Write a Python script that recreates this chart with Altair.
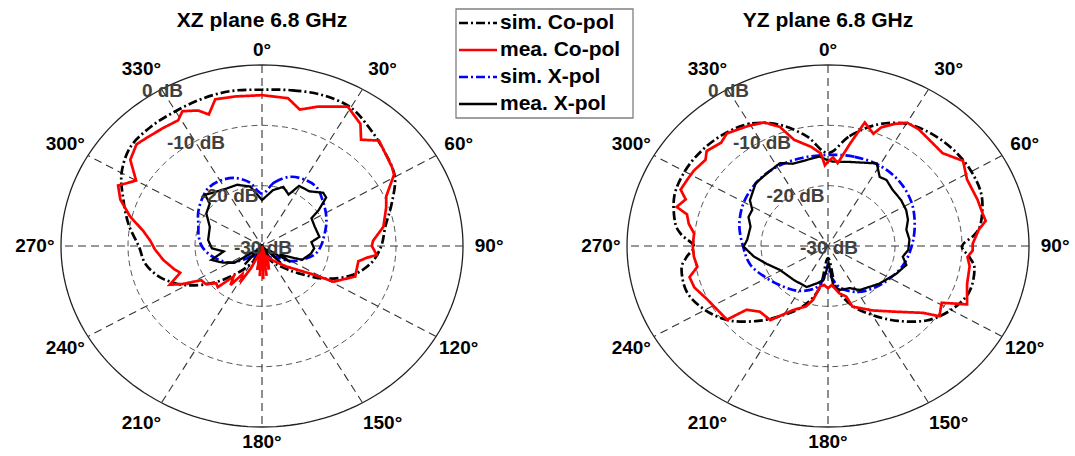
import altair as alt
import pandas as pd

# ---------------- data ----------------
SERIES = ["sim. Co-pol", "mea. Co-pol", "sim. X-pol", "mea. X-pol"]
PANEL_TITLES = ["XZ plane 6.8 GHz", "YZ plane 6.8 GHz"]
ANGLE_TICKS = list(range(0, 360, 30))
DB_TICKS = [0, -10, -20, -30]
DB_MIN = -30

# XZ plane
XZ_SIM_CO_ANG = list(range(0, 360, 10))
XZ_SIM_CO_DB = [-4.1, -3.8, -3.4, -3.5, -4.8, -6.0, -7.1, -9.4, -11.3, -12.2,
                -13.5, -15.8, -19.2, -23.0, -25.5, -27.0, -28.5, -30.0, -33.0, -30.0,
                -28.5, -26.5, -24.0, -20.5, -17.0, -14.2, -12.4, -11.6, -9.8, -8.0,
                -5.8, -4.4, -4.2, -4.2, -4.0, -3.9]

XZ_MEA_CO_ANG = [0, 9, 14, 20, 29, 36, 40, 45, 56, 59, 66, 71, 80, 87, 90, 95, 97, 100, 110, 119,
                 122, 133, 145, 155, 165, 168, 172, 175, 178, 181, 184, 187, 190, 195, 204,
                 208, 212, 216, 220, 224, 228, 233, 238, 242, 245, 250, 254, 261, 268, 273,
                 278, 284, 290, 295, 300, 306, 312, 317, 323, 329, 332, 337, 340, 344, 351]
XZ_MEA_CO_DB = [-5.0, -5.2, -6.7, -5.4, -3.6, -5.0, -7.0, -5.3, -6.6, -7.0, -9.7, -10.4, -11.6,
                -13.4, -13.6, -12.8, -14.2, -15.4, -15.2, -17.8, -21.2, -25.0, -27.0, -28.0,
                -26.0, -30.0, -25.0, -30.0, -24.5, -30.0, -25.0, -30.0, -26.0, -29.0, -26.0,
                -23.5, -24.5, -22.0, -23.4, -20.5, -20.8, -19.5, -19.3, -16.6, -14.8, -17.0,
                -16.3, -15.1, -14.0, -13.3, -12.1, -9.7, -7.5, -6.3, -8.3, -5.7, -4.8, -5.2,
                -5.5, -5.7, -4.7, -5.6, -6.8, -4.7, -4.9]

XZ_SIM_X_ANG = list(range(0, 360, 10))
XZ_SIM_X_DB = [-21.3, -19.3, -17.8, -17.3, -17.3, -18.2, -19.0, -19.8, -20.6, -21.2,
               -22.0, -23.5, -25.0, -27.0, -28.0, -27.5, -29.0, -27.0, -30.0, -27.0,
               -29.0, -27.5, -28.0, -26.5, -24.5, -23.2, -22.0, -21.0, -20.4, -19.9,
               -19.0, -18.2, -17.5, -17.5, -18.0, -19.3]

XZ_MEA_X_ANG = [0, 10, 18, 25, 29, 38, 46, 50, 55, 58, 68, 80, 85, 93, 100, 111, 118, 122, 128,
                135, 142, 150, 158, 165, 172, 178, 184, 190, 198, 205, 213, 220, 228, 236,
                245, 253, 261, 267, 277, 292, 303, 312, 315, 323, 331, 340, 350]
XZ_MEA_X_DB = [-22.4, -20.6, -19.7, -20.6, -18.6, -18.5, -17.3, -17.5, -19.7, -21.3, -21.5,
               -21.3, -22.6, -22.2, -22.6, -23.6, -27.0, -25.0, -29.0, -26.0, -30.0, -27.0,
               -30.0, -26.0, -30.0, -25.0, -30.0, -26.0, -30.0, -27.0, -30.0, -26.0, -29.0,
               -25.0, -23.5, -22.1, -24.2, -22.5, -21.9, -21.6, -20.1, -19.5, -18.0, -18.7,
               -19.1, -19.2, -20.0]

# YZ plane
YZ_SIM_CO_ANG = [0, 10, 20, 30, 40, 50, 60, 70, 80, 85, 90, 95, 100, 110, 120, 130, 140, 150,
                 160, 170, 180, 190, 200, 210, 220, 230, 240, 250, 260, 265, 270, 275, 280,
                 290, 300, 310, 320, 330, 340, 350]
YZ_SIM_CO_DB = [-14.6, -11.5, -8.6, -6.6, -5.8, -5.4, -5.3, -5.6, -6.8, -8.0, -10.0, -8.8,
                -7.8, -7.6, -8.8, -10.8, -13.8, -16.8, -19.5, -23.0, -28.0, -23.0, -19.5,
                -16.8, -13.8, -10.8, -8.8, -7.6, -7.8, -8.8, -10.0, -8.0, -6.8, -5.6, -5.3,
                -5.4, -5.8, -6.6, -8.6, -11.5]

YZ_MEA_CO_ANG = [0, 3, 6, 11, 15, 20, 22, 26, 30, 35, 39, 48, 55, 62, 71, 77, 80, 83, 89, 92,
                 95, 99, 107, 115, 119, 125, 128, 137, 148, 160, 162, 168, 175, 180, 185,
                 190, 194, 198, 206, 215, 223, 229, 231, 235, 244, 251, 256, 260, 265, 270,
                 276, 280, 284, 286, 290, 293, 298, 302, 308, 311, 317, 321, 329, 335, 340,
                 344, 351, 356, 358]
YZ_MEA_CO_DB = [-16.0, -15.3, -16.2, -12.7, -8.8, -10.2, -8.8, -7.5, -6.4, -6.4, -6.7, -7.0,
                -5.4, -6.5, -6.4, -6.3, -6.1, -7.3, -8.4, -8.4, -9.1, -8.6, -8.3, -7.1, -10.6,
                -9.7, -12.0, -15.1, -17.4, -19.3, -21.2, -22.0, -23.5, -23.0, -23.5, -23.2,
                -20.8, -19.5, -18.2, -15.0, -15.1, -13.9, -10.6, -10.5, -9.9, -8.9, -8.7,
                -10.2, -9.9, -9.8, -9.9, -8.9, -8.3, -6.5, -7.4, -6.1, -6.3, -6.4, -6.8,
                -6.0, -6.6, -6.0, -6.8, -7.4, -9.0, -11.7, -13.3, -14.6, -16.6]

YZ_SIM_X_ANG = [0, 15, 30, 45, 60, 75, 90, 105, 120, 135, 150, 165, 175, 180, 185, 195, 210,
                225, 240, 255, 270, 285, 300, 315, 330, 345]
YZ_SIM_X_DB = [-14.9, -14.7, -14.6, -14.9, -15.6, -16.6, -17.5, -18.3, -19.3, -20.2, -21.2,
               -22.8, -25.0, -27.0, -25.0, -22.8, -21.4, -20.5, -19.4, -18.0, -17.3, -16.3,
               -15.5, -15.0, -14.8, -14.9]

YZ_MEA_X_ANG = [0, 3, 13, 28, 34, 38.5, 46, 55, 63, 70, 77, 85, 93, 99, 105, 114, 129, 147, 155,
                166, 173, 178, 187, 195, 205, 222, 241, 252, 261, 269.5, 275, 285.5, 292, 298,
                303, 314, 323, 332.5, 339, 347, 355]
YZ_MEA_X_DB = [-15.8, -16.0, -15.7, -14.5, -16.2, -16.0, -16.6, -16.7, -16.9, -17.3, -18.0,
               -17.8, -18.0, -18.7, -17.9, -18.8, -20.1, -21.3, -22.3, -22.5, -23.2, -27.1,
               -24.3, -23.6, -22.5, -22.4, -21.8, -20.4, -18.8, -17.4, -17.9, -18.0, -17.2,
               -17.2, -16.1, -15.0, -14.9, -14.5, -15.4, -15.4, -15.1]

# ---------------- layout / style ----------------
W, H = 1075, 456
X_DOMAIN = [-1.3035, 4.0448]   # 1 unit = outer radius (horizontal)
Y_DOMAIN = [-1.1602, 1.3591]   # 1 unit = outer radius (vertical)
PANEL_CX = [0.0, 2.816]
COLORS = ["#000000", "#ff0000", "#0000ff", "#000000"]
DASHES = [[9, 3, 2, 3], [1, 0], [9, 3, 2, 3], [1, 0]]
FONT = "Liberation Sans"
DB_LABEL_ANGLE = 330

xs = alt.Scale(domain=X_DOMAIN, nice=False, zero=False)
ys = alt.Scale(domain=Y_DOMAIN, nice=False, zero=False)


def X(f):
    return alt.X(f"{f}:Q", scale=xs, axis=None)


def Y(f):
    return alt.Y(f"{f}:Q", scale=ys, axis=None)


def polar(ch):
    return ch.transform_calculate(
        rr=f"max(0, (datum.db - ({DB_MIN})) / {-DB_MIN})"
    ).transform_calculate(
        px="datum.cx + datum.rr * sin(datum.ang * PI / 180)",
        py="datum.rr * cos(datum.ang * PI / 180)",
    )


# series table
rows = []
all_series = [
    (0, SERIES[0], XZ_SIM_CO_ANG, XZ_SIM_CO_DB),
    (0, SERIES[1], XZ_MEA_CO_ANG, XZ_MEA_CO_DB),
    (0, SERIES[2], XZ_SIM_X_ANG, XZ_SIM_X_DB),
    (0, SERIES[3], XZ_MEA_X_ANG, XZ_MEA_X_DB),
    (1, SERIES[0], YZ_SIM_CO_ANG, YZ_SIM_CO_DB),
    (1, SERIES[1], YZ_MEA_CO_ANG, YZ_MEA_CO_DB),
    (1, SERIES[2], YZ_SIM_X_ANG, YZ_SIM_X_DB),
    (1, SERIES[3], YZ_MEA_X_ANG, YZ_MEA_X_DB),
]
for p, s, angs, dbs in all_series:
    for i, (a, d) in enumerate(zip(angs, dbs)):
        rows.append(dict(panel=p, cx=PANEL_CX[p], series=s, idx=i, ang=a, db=d))
df = pd.DataFrame(rows)

# grid rings
ring_rows = []
for p in range(2):
    for lvl in DB_TICKS[:-1]:
        for a in range(0, 361, 2):
            ring_rows.append(dict(panel=p, cx=PANEL_CX[p], db=lvl, ang=a, key=f"{p}_{lvl}"))
rings = pd.DataFrame(ring_rows)

# spokes
spk = pd.DataFrame([dict(panel=p, cx=PANEL_CX[p], ang=a)
                    for p in range(2) for a in ANGLE_TICKS[:6]])
# angle labels
alab = pd.DataFrame([dict(panel=p, cx=PANEL_CX[p], ang=a, text=f"{a}°")
                     for p in range(2) for a in ANGLE_TICKS])
# dB labels
dlab = pd.DataFrame([dict(panel=p, cx=PANEL_CX[p], ang=DB_LABEL_ANGLE, db=d, text=f"{d} dB")
                     for p in range(2) for d in DB_TICKS])
# titles
tdf = pd.DataFrame([dict(panel=p, cx=PANEL_CX[p], text=t) for p, t in enumerate(PANEL_TITLES)])
# legend
ldf = pd.DataFrame([dict(series=s, i=i) for i, s in enumerate(SERIES)])

layers = []

# inner rings (dashed)
layers.append(
    polar(alt.Chart(rings[rings.db < 0])).mark_line(
        color="#555555", strokeWidth=1, strokeDash=[6, 4]
    ).encode(x=X("px"), y=Y("py"), detail="key:N", order="ang:Q")
)
# outer ring (solid)
layers.append(
    polar(alt.Chart(rings[rings.db == 0])).mark_line(
        color="#222222", strokeWidth=1.3
    ).encode(x=X("px"), y=Y("py"), detail="key:N", order="ang:Q")
)
# spokes
layers.append(
    alt.Chart(spk).transform_calculate(
        sx1="datum.cx + sin(datum.ang * PI / 180)",
        sy1="cos(datum.ang * PI / 180)",
        sx2="datum.cx - sin(datum.ang * PI / 180)",
        sy2="-cos(datum.ang * PI / 180)",
    ).mark_rule(color="#333333", strokeWidth=1.1, strokeDash=[8, 5]).encode(
        x=X("sx1"), y=Y("sy1"), x2="sx2:Q", y2="sy2:Q"
    )
)


def series_layer(name, interp, color, dash, width):
    sub = df[df.series == name]
    return polar(alt.Chart(sub)).mark_line(
        interpolate=interp, color=color, strokeDash=dash, strokeWidth=width
    ).encode(x=X("px"), y=Y("py"), detail="panel:N", order="idx:Q")


layers.append(series_layer(SERIES[0], "cardinal-closed", COLORS[0], DASHES[0], 2.7))
layers.append(series_layer(SERIES[2], "cardinal-closed", COLORS[2], DASHES[2], 2.7))
layers.append(series_layer(SERIES[3], "linear-closed", COLORS[3], DASHES[3], 2.3))
layers.append(series_layer(SERIES[1], "linear-closed", COLORS[1], DASHES[1], 2.7))

# angle labels
layers.append(
    alt.Chart(alab).transform_calculate(
        sn="sin(datum.ang * PI / 180)",
        cs="cos(datum.ang * PI / 180)",
    ).transform_calculate(
        lx="datum.cx + (abs(datum.sn) > 0.4 && abs(datum.sn) < 0.6 ? 1.2 : 1.13) * datum.sn",
        ly="(abs(datum.cs) > 0.99 ? 1.085 : 1.13) * datum.cs",
    ).mark_text(font=FONT, fontSize=19, fontWeight="bold", color="#000000",
                align="center", baseline="middle").encode(
        x=X("lx"), y=Y("ly"), text="text:N")
)
# dB labels
layers.append(
    polar(alt.Chart(dlab)).mark_text(font=FONT, fontSize=19, fontWeight="bold",
                                     color="#404040", align="center",
                                     baseline="middle", dx=1, dy=2).encode(
        x=X("px"), y=Y("py"), text="text:N")
)
# titles
layers.append(
    alt.Chart(tdf).transform_calculate(ty="1.243").mark_text(
        font=FONT, fontSize=21, fontWeight="bold", color="#000000",
        align="center", baseline="middle").encode(
        x=X("cx"), y=Y("ty"), text="text:N")
)

# legend
layers.append(
    alt.Chart(pd.DataFrame({"a": [0]})).mark_rect(
        fill="white", stroke="#808080", strokeWidth=1.3).encode(
        x=alt.value(456), x2=alt.value(633), y=alt.value(9), y2=alt.value(118))
)
layers.append(
    alt.Chart(ldf).transform_calculate(ly="23 + 27 * datum.i").mark_rule(strokeWidth=2.6).encode(
        x=alt.value(459), x2=alt.value(497), y=alt.Y("ly:Q", scale=None),
        color=alt.Color("series:N", scale=alt.Scale(domain=SERIES, range=COLORS), legend=None),
        strokeDash=alt.StrokeDash("series:N", scale=alt.Scale(domain=SERIES, range=DASHES),
                                  legend=None),
    )
)
layers.append(
    alt.Chart(ldf).transform_calculate(ly="23 + 27 * datum.i").mark_text(
        font=FONT, fontSize=21, fontWeight="bold", color="#000000",
        align="left", baseline="middle").encode(
        x=alt.value(500), y=alt.Y("ly:Q", scale=None), text="series:N")
)

chart = alt.layer(*layers).properties(
    width=W, height=H, padding=0,
    autosize=alt.AutoSizeParams(type="none"),
    background="white",
).configure_view(strokeWidth=0)

chart.save("out.html", embed_options={"renderer": "svg", "actions": False})
